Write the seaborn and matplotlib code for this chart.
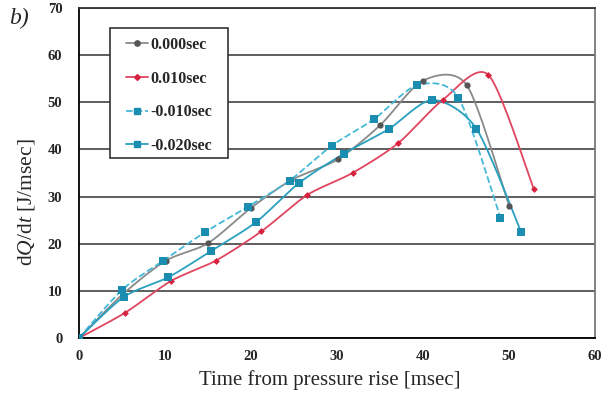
import numpy as np
import pandas as pd
import matplotlib
matplotlib.use("Agg")
import matplotlib.pyplot as plt
import seaborn as sns
from matplotlib.lines import Line2D
from matplotlib.patches import Rectangle

# Données
labels = ["0.000sec", "0.010sec", "-0.010sec", "-0.020sec"]

t_000 = [0, 5.1, 10.1, 15.0, 20.0, 24.7, 30.1, 35.0, 40.0, 45.1, 50.0]
q_000 = [0, 9.3, 16.4, 20.1, 27.6, 33.5, 37.9, 45.1, 54.6, 53.6, 28.1]

t_010 = [0, 5.4, 10.7, 15.9, 21.2, 26.5, 31.8, 37.1, 42.3, 47.6, 52.9]
q_010 = [0, 5.4, 12.1, 16.4, 22.6, 30.3, 35.0, 41.3, 50.5, 55.8, 31.5]

t_m010 = [0, 5.0, 9.8, 14.7, 19.6, 24.5, 29.4, 34.3, 39.3, 44.1, 49.0]
q_m010 = [0, 10.2, 16.4, 22.5, 27.8, 33.4, 40.8, 46.4, 53.6, 51.0, 25.5]

t_m020 = [0, 5.2, 10.4, 15.4, 20.6, 25.6, 30.8, 36.0, 41.1, 46.2, 51.4]
q_m020 = [0, 8.7, 12.9, 18.5, 24.6, 32.9, 39.1, 44.3, 50.5, 44.4, 22.5]

series = [(t_000, q_000), (t_010, q_010), (t_m010, q_m010), (t_m020, q_m020)]
line_colors = ["#8a8a8a", "#e0455f", "#45b8d8", "#2aa0bf"]
marker_colors = ["#555555", "#d8203f", "#1a8db0", "#1a8db0"]
markers = ["o", "D", "s", "s"]
msizes = [4.5, 3.5, 5.5, 5.5]
styles = ["-", "-", "--", "-"]


def lissage(x, y, n=20):
    # courbe lissée type Excel (Catmull-Rom) passant par les points
    x = np.asarray(x, float)
    y = np.asarray(y, float)
    px = np.concatenate([[x[0]], x, [x[-1]]])
    py = np.concatenate([[y[0]], y, [y[-1]]])
    xs, ys = [], []
    for i in range(1, len(px) - 2):
        s = np.linspace(0, 1, n, endpoint=False)
        for p, out in ((px, xs), (py, ys)):
            p0, p1, p2, p3 = p[i - 1], p[i], p[i + 1], p[i + 2]
            m1 = (p2 - p0) / 2 * 0.8
            m2 = (p3 - p1) / 2 * 0.8
            h00 = 2 * s**3 - 3 * s**2 + 1
            h10 = s**3 - 2 * s**2 + s
            h01 = -2 * s**3 + 3 * s**2
            h11 = s**3 - s**2
            out.extend(h00 * p1 + h10 * m1 + h01 * p2 + h11 * m2)
    xs.append(x[-1])
    ys.append(y[-1])
    return np.array(xs), np.array(ys)


sns.set_style("white")
plt.rcParams["font.family"] = ["Liberation Serif", "DejaVu Serif"]
plt.rcParams["mathtext.fontset"] = "custom"
plt.rcParams["mathtext.rm"] = "Liberation Serif"
plt.rcParams["mathtext.it"] = "Liberation Serif:italic"

fig = plt.figure(figsize=(6.14, 3.98), dpi=100)
ax = fig.add_axes([0.1287, 0.1508, 0.8404, 0.8292])

ax.set_yticks(range(0, 71, 10))
ax.yaxis.grid(True, color="#333333", linewidth=1.1)
ax.set_axisbelow(True)

handles = []
for (t, q), lab, lc, mc, mk, ms, ls in zip(series, labels, line_colors, marker_colors,
                                           markers, msizes, styles):
    xs, ys = lissage(t, q)
    sns.lineplot(x=xs, y=ys, ax=ax, color=lc, linestyle=ls, linewidth=1.3,
                 sort=False, estimator=None)
    df = pd.DataFrame({"t": t, "q": q})
    sns.scatterplot(data=df, x="t", y="q", ax=ax, color=mc, marker=mk,
                    s=ms**2, edgecolor=mc, linewidth=0, zorder=5)
    handles.append(Line2D([], [], color=lc, linestyle=ls, linewidth=1.3,
                          marker=mk, markersize=ms * 0.85, markerfacecolor=mc,
                          markeredgecolor=mc, label=lab))

ax.set_xlim(0, 60)
ax.set_ylim(0, 70)
ax.set_xticks(range(0, 61, 10))
ax.tick_params(axis="x", direction="in", length=4, width=1, pad=9)
ax.tick_params(axis="y", length=0, pad=12)
for lbl in ax.get_xticklabels() + ax.get_yticklabels():
    lbl.set_fontweight("bold")
    lbl.set_fontsize(10.5)

for side in ["left", "bottom"]:
    ax.spines[side].set_color("black")
    ax.spines[side].set_linewidth(1.3)
ax.spines["top"].set_color("#333333")
ax.spines["right"].set_color("#777777")
ax.spines["top"].set_linewidth(1.3)
ax.spines["right"].set_linewidth(1.3)

ax.set_xlabel("Time from pressure rise [msec]", fontsize=15)
ax.xaxis.set_label_coords(0.485, -0.098)
ax.set_ylabel(r"d$\mathit{Q}$/d$\mathit{t}$ [J/msec]", fontsize=15.5)
ax.yaxis.set_label_coords(-0.082, 0.41)

# cadre de la légende (marges à la manière d'Excel)
cadre = Rectangle((0.060, 0.545), 0.229, 0.394, transform=ax.transAxes,
                  facecolor="white", edgecolor="#333333", linewidth=1.2, zorder=8)
ax.add_patch(cadre)

leg = ax.legend(handles=handles, loc="upper left", bbox_to_anchor=(0.091, 0.912),
                frameon=False, fontsize=11.5, handlelength=1.4,
                labelspacing=1.1, borderpad=0, borderaxespad=0,
                handletextpad=0.1)
leg.set_zorder(9)
for txt in leg.get_texts():
    txt.set_fontweight("bold")

fig.text(0.015, 0.94, "b)", fontsize=17, style="italic")

fig.savefig("out.png", dpi=100)
